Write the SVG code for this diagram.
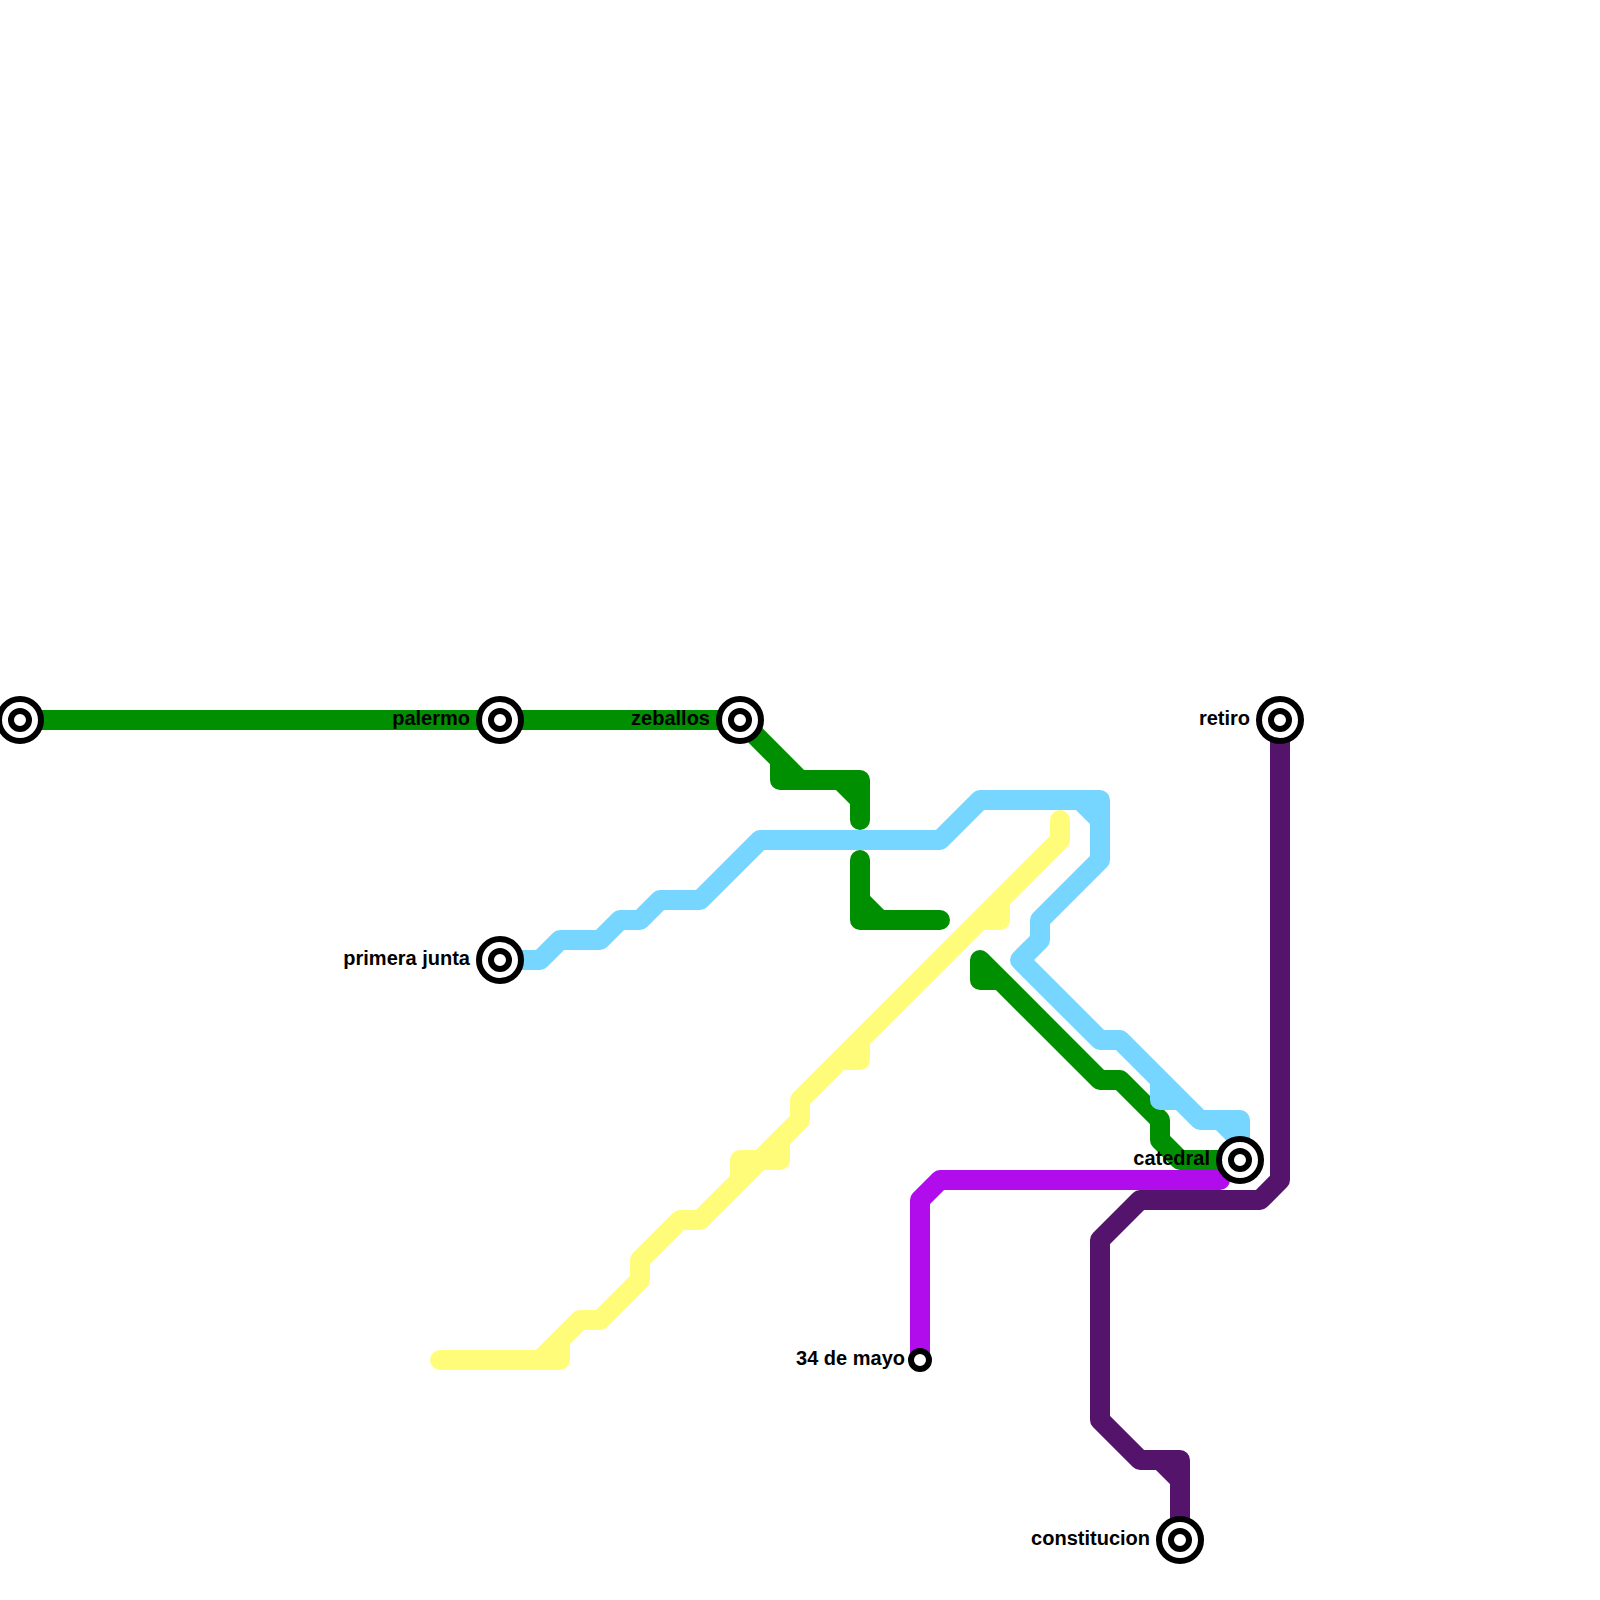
<svg xmlns="http://www.w3.org/2000/svg" width="1600" height="1600" viewBox="0 0 1600 1600">
<style>
.ln{fill:none;stroke-width:20;stroke-linecap:round;stroke-linejoin:round}
.o{fill:#fff;stroke:#000;stroke-width:6}
.i{fill:#fff;stroke:#000;stroke-width:6}
.t{font-family:"Liberation Sans",Arial,sans-serif;font-weight:bold;font-size:20px;text-anchor:end;fill:#000}
</style>
<rect width="1600" height="1600" fill="#fff"/>
<g id="connectors">
<path class="ln" stroke="#fffc79" d="M1060 820V840L800 1100V1120L700 1220H680L640 1260V1280L600 1320H580L540 1360H440M1000 900V920H980M860 1040V1060H840M740 1180V1160H780V1140M560 1340V1360H540"/>
<path class="ln" stroke="#008f00" d="M20 720H740L800 780H860V820M780 760V780H800M840 780L860 800M860 860V920H940M860 900L880 920M980 960V980H1000M980 960L1100 1080H1120L1160 1120V1140L1180 1160H1240"/>
<path class="ln" stroke="#76d6ff" d="M500 960H540L560 940H600L620 920H640L660 900H700L760 840H940L980 800H1100V860L1040 920V940L1020 960L1100 1040H1120L1200 1120H1240V1160M1080 800L1100 820M1160 1080V1100H1180M1220 1120L1240 1140"/>
<path class="ln" stroke="#b10dec" d="M920 1360V1200L940 1180H1220"/>
<path class="ln" stroke="#54146c" d="M1280 720V1180L1260 1200H1140L1100 1240V1420L1140 1460H1180V1540M1160 1460L1180 1480"/>
</g>
<g id="st-left"><circle class="o" cx="20" cy="720" r="21"/><circle class="i" cx="20" cy="720" r="9"/></g>
<g id="st-palermo"><circle class="o" cx="500" cy="720" r="21"/><circle class="i" cx="500" cy="720" r="9"/><text class="t" x="470" y="725">palermo</text></g>
<g id="st-zeballos"><circle class="o" cx="740" cy="720" r="21"/><circle class="i" cx="740" cy="720" r="9"/><text class="t" x="710" y="725">zeballos</text></g>
<g id="st-retiro"><circle class="o" cx="1280" cy="720" r="21"/><circle class="i" cx="1280" cy="720" r="9"/><text class="t" x="1250" y="725">retiro</text></g>
<g id="st-primera-junta"><circle class="o" cx="500" cy="960" r="21"/><circle class="i" cx="500" cy="960" r="9"/><text class="t" x="470" y="965">primera junta</text></g>
<g id="st-catedral"><circle class="o" cx="1240" cy="1160" r="21"/><circle class="i" cx="1240" cy="1160" r="9"/><text class="t" x="1210" y="1165">catedral</text></g>
<g id="st-constitucion"><circle class="o" cx="1180" cy="1540" r="21"/><circle class="i" cx="1180" cy="1540" r="9"/><text class="t" x="1150" y="1545">constitucion</text></g>
<g id="st-34-de-mayo"><circle class="i" cx="920" cy="1360" r="9"/><text class="t" x="905" y="1365">34 de mayo</text></g>
</svg>
